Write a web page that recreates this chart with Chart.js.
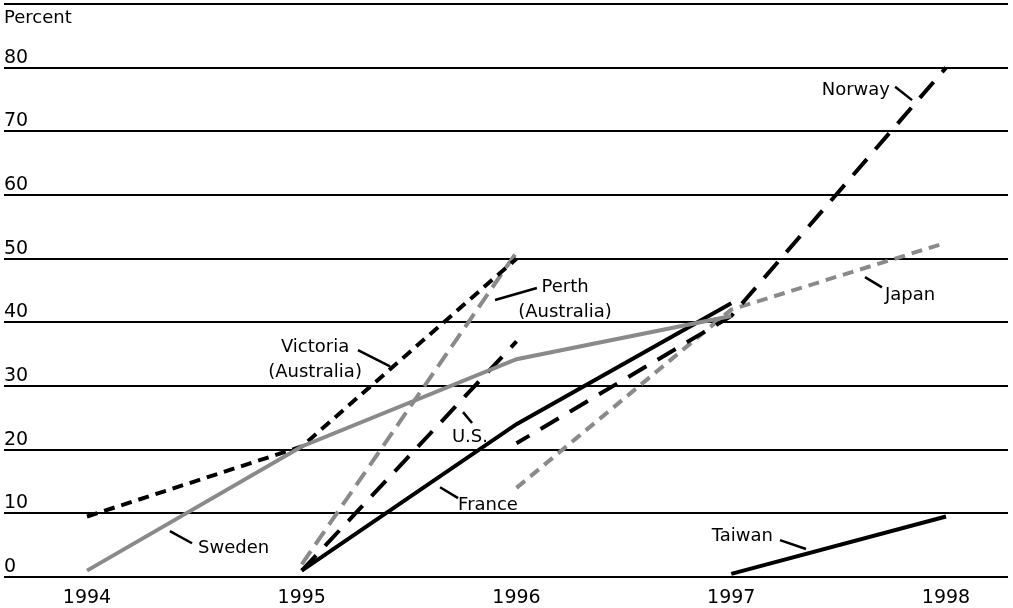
<!DOCTYPE html>
<html>
<head>
<meta charset="utf-8">
<script src="https://cdn.jsdelivr.net/npm/chart.js@4"></script>
<style>
  html, body { margin: 0; padding: 0; background: #fff; }
  #wrap { width: 1013px; height: 608px; position: relative; }
</style>
</head>
<body>
<div id="wrap"><canvas id="chart"></canvas></div>
<script>
const years = [1994, 1995, 1996, 1997, 1998];
const yTicks = [0, 10, 20, 30, 40, 50, 60, 70, 80, 90];

// percent by year, null where the series has no value
const sweden = [1, 20.5, 34.2, 41, null];
const victoria = [9.5, 20.5, 50, null, null];
const perth = [null, 2, 51, null, null];
const us = [null, 1, 37, null, null];
const france = [null, 1, 24, 43, null];
const norway = [null, null, 21, 41, 80];
const japan = [null, null, 14, 42, 52.5];
const taiwan = [null, null, null, 0.5, 9.5];

const BLACK = "#000000";
const GRAY = "#8a8a8a";
const FONT = "'DejaVu Sans', sans-serif";
const TEXT_SIZE = 18;
const TICK_SIZE = 19;

// label text, anchor in data units, leader line in data units
const notes = [
  { lines: ["Norway"], x: 1997.739, y: 76.5, align: "right", lead: [1997.763, 77.0, 1997.842, 74.9] },
  { lines: ["Perth", "(Australia)"], x: 1996.226, y: 45.5, align: "center", lead: [1995.9, 43.5, 1996.095, 45.4] },
  { lines: ["Victoria", "(Australia)"], x: 1995.062, y: 36.0, align: "center", lead: [1995.262, 35.65, 1995.411, 33.1] },
  { lines: ["U.S."], x: 1995.783, y: 22.0, align: "center", lead: [1995.751, 25.9, 1995.793, 24.2] },
  { lines: ["France"], x: 1995.728, y: 11.3, align: "left", lead: [1995.644, 14.1, 1995.728, 12.4] },
  { lines: ["Japan"], x: 1997.716, y: 44.3, align: "left", lead: [1997.623, 47.1, 1997.702, 45.5] },
  { lines: ["Taiwan"], x: 1997.194, y: 6.4, align: "right", lead: [1997.227, 5.8, 1997.348, 4.4] },
  { lines: ["Sweden"], x: 1994.517, y: 4.55, align: "left", lead: [1994.386, 7.2, 1994.489, 5.3] },
];

function points(values) {
  return years.map((x, i) => ({ x, y: values[i] }));
}

function series(label, values, color, dash, dashOffset = 0) {
  return {
    label,
    data: points(values),
    borderColor: color,
    borderWidth: 4,
    borderDash: dash,
    borderDashOffset: dashOffset,
    borderCapStyle: "butt",
    pointRadius: 0,
    fill: false,
    tension: 0,
    spanGaps: false,
  };
}

const notesPlugin = {
  id: "notes",
  afterDatasetsDraw(chart) {
    const { ctx, scales, chartArea } = chart;
    const xs = scales.x;
    const ys = scales.y;
    ctx.save();
    ctx.fillStyle = BLACK;
    ctx.font = `${TEXT_SIZE}px ${FONT}`;
    ctx.textBaseline = "middle";
    ctx.textAlign = "left";
    ctx.fillText("Percent", chartArea.left, ys.getPixelForValue(87.8));

    ctx.strokeStyle = BLACK;
    ctx.lineWidth = 2.5;
    notes.forEach((note) => {
      const [x1, y1, x2, y2] = note.lead;
      ctx.beginPath();
      ctx.moveTo(xs.getPixelForValue(x1), ys.getPixelForValue(y1));
      ctx.lineTo(xs.getPixelForValue(x2), ys.getPixelForValue(y2));
      ctx.stroke();
      ctx.textAlign = note.align;
      const px = xs.getPixelForValue(note.x);
      const py = ys.getPixelForValue(note.y);
      note.lines.forEach((line, i) => {
        ctx.fillText(line, px, py + i * 25);
      });
    });
    ctx.restore();
  },
};

new Chart(document.getElementById("chart"), {
  type: "line",
  data: {
    datasets: [
      series("Sweden", sweden, GRAY, []),
      series("Victoria (Australia)", victoria, BLACK, [11, 7]),
      series("Perth (Australia)", perth, GRAY, [16, 8]),
      series("U.S.", us, BLACK, [21, 13]),
      series("France", france, BLACK, []),
      series("Norway", norway, BLACK, [21, 13], 6),
      series("Japan", japan, GRAY, [11, 7]),
      series("Taiwan", taiwan, BLACK, []),
    ],
  },
  options: {
    responsive: true,
    maintainAspectRatio: false,
    animation: false,
    layout: { padding: { left: 4, right: 5, top: 4, bottom: 0 } },
    plugins: {
      legend: { display: false },
      tooltip: { enabled: false },
    },
    scales: {
      x: {
        type: "linear",
        min: 1993.6135,
        max: 1998.2887,
        afterBuildTicks: (axis) => {
          axis.ticks = years.map((v) => ({ value: v }));
        },
        afterFit: (axis) => {
          axis.paddingLeft = 0;
          axis.paddingRight = 0;
          axis.height = 31;
        },
        grid: { display: false, drawTicks: false },
        border: { display: false },
        ticks: {
          color: BLACK,
          font: { family: FONT, size: TICK_SIZE },
          padding: 10,
          maxRotation: 0,
          callback: (v) => String(v),
        },
      },
      y: {
        min: 0,
        max: 90,
        afterBuildTicks: (axis) => {
          axis.ticks = yTicks.map((v) => ({ value: v }));
        },
        afterFit: (axis) => {
          axis.paddingTop = 0;
          axis.paddingBottom = 0;
        },
        grid: { color: BLACK, lineWidth: 2, drawTicks: false },
        border: { display: false },
        ticks: {
          mirror: true,
          padding: 0,
          labelOffset: -10,
          color: BLACK,
          font: { family: FONT, size: TICK_SIZE },
          callback: (v) => (v === 90 ? "" : String(v)),
        },
      },
    },
  },
  plugins: [notesPlugin],
});
</script>
</body>
</html>
